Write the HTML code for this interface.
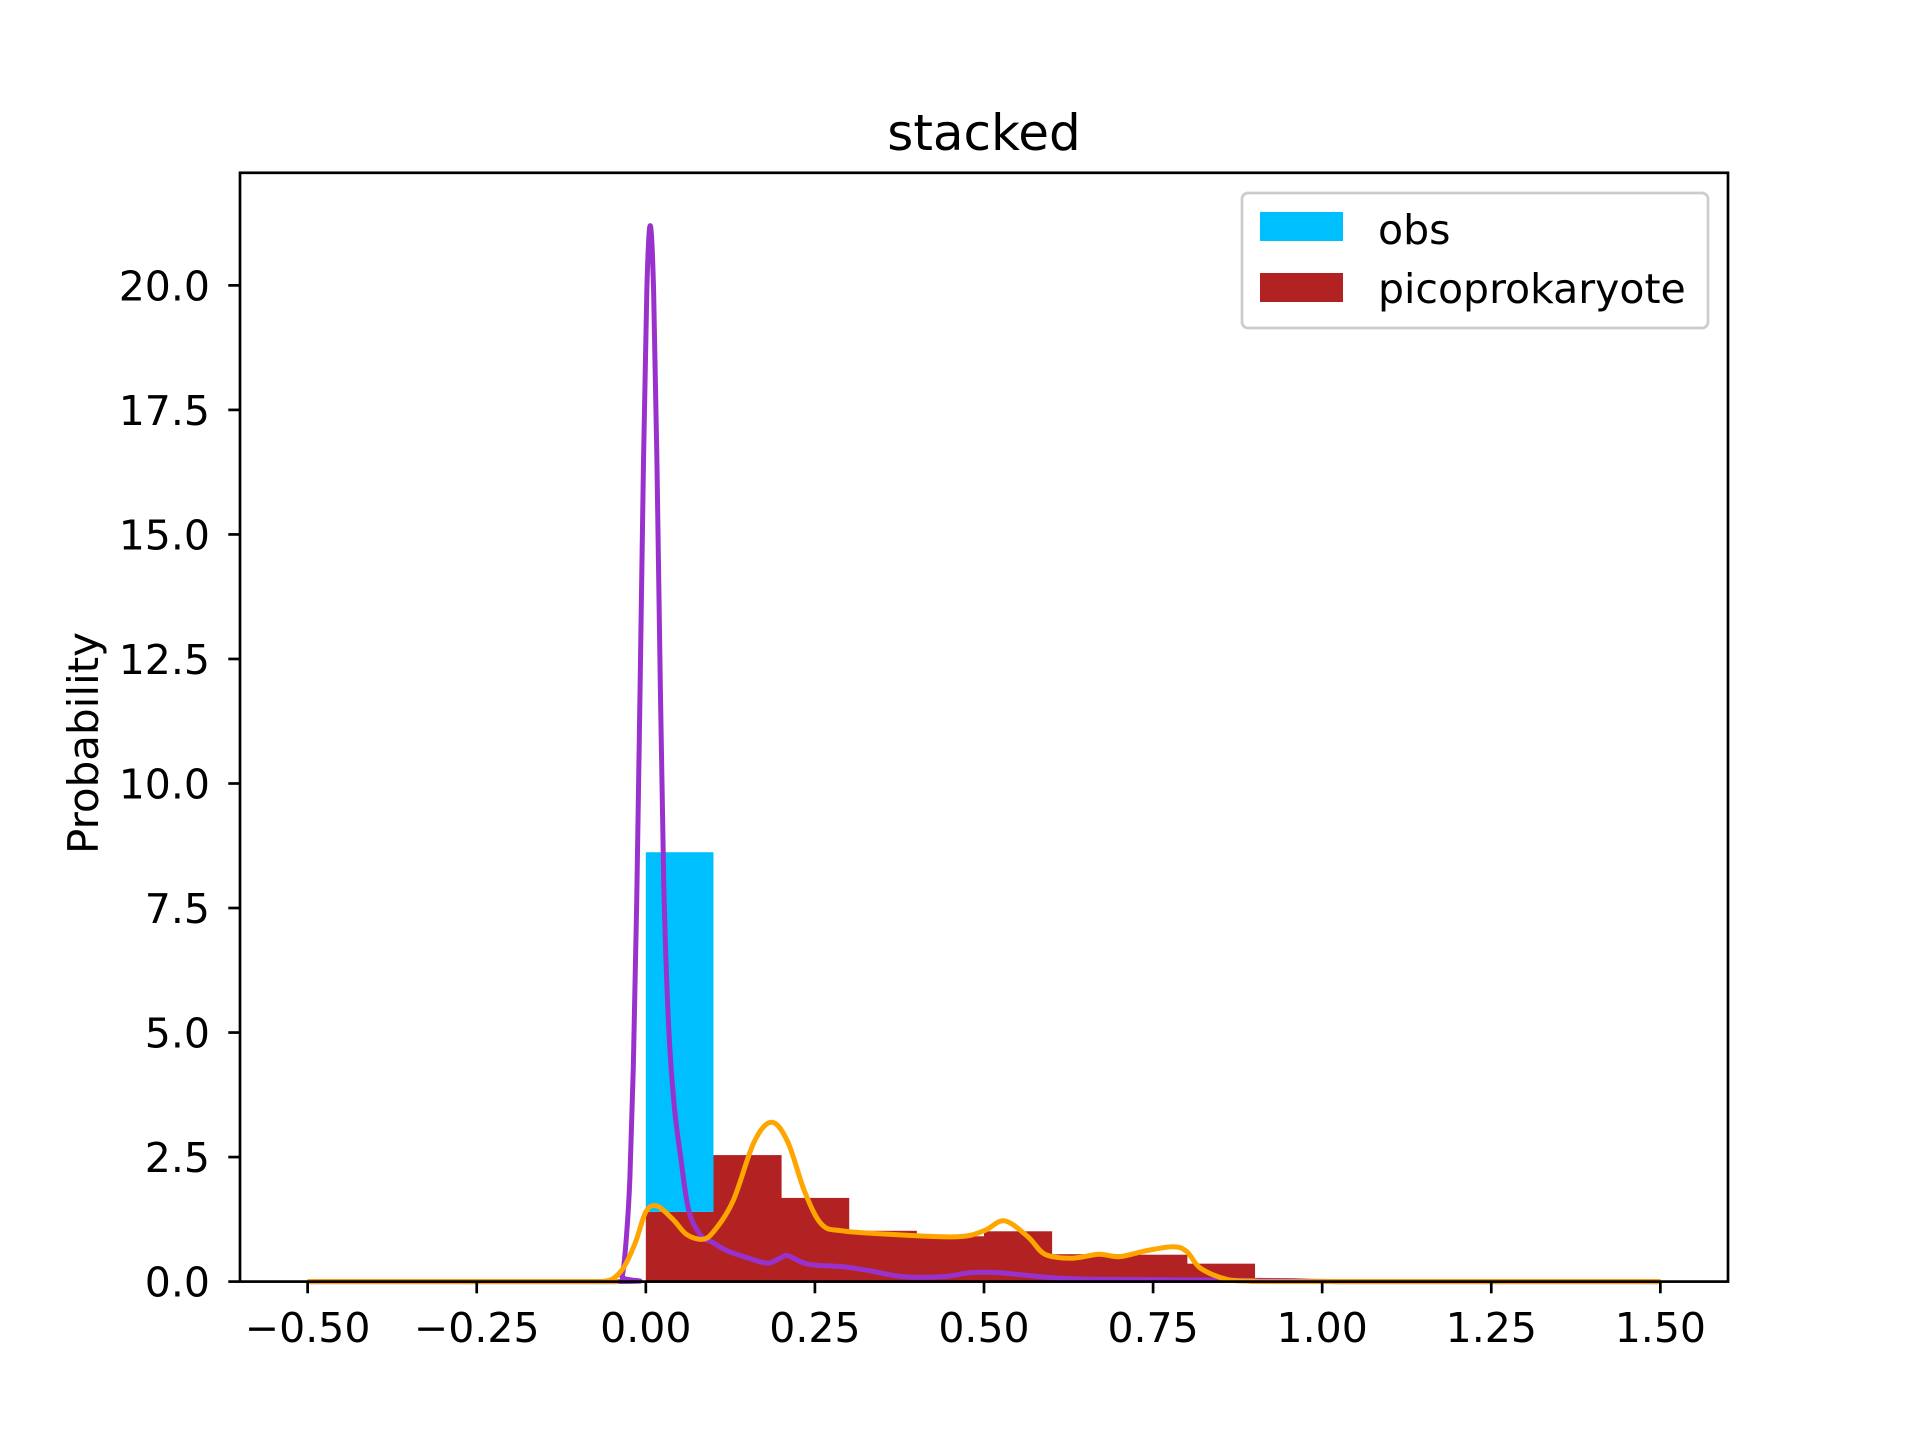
<!DOCTYPE html>
<html><head><meta charset="utf-8"><style>
html,body{margin:0;padding:0;background:#fff;}
svg{display:block;font-family:"DejaVu Sans","Liberation Sans",sans-serif;}
</style></head><body>
<svg id="chart" width="1920" height="1440" viewBox="0 0 1920 1440" xmlns="http://www.w3.org/2000/svg">
<rect width="1920" height="1440" fill="#fff"/>
<text x="984" y="150" font-size="50" text-anchor="middle">stacked</text>
<text transform="translate(98,743) rotate(-90)" font-size="42" text-anchor="middle">Probability</text>
<g id="plot"></g>
<g id="axes"></g>
<g>
<rect x="1242" y="193" width="466" height="135" rx="6" fill="#fff" fill-opacity="0.8" stroke="#cccccc" stroke-width="2.7"/>
<rect x="1260" y="212" width="83" height="29" fill="#00BFFF"/>
<text x="1378" y="244" font-size="41">obs</text>
<rect x="1260" y="273" width="83" height="29" fill="#B22222"/>
<text x="1378" y="303" font-size="41">picoprokaryote</text>
</g>
</svg>
<script>
const binEdges = [0,0.1,0.2,0.3,0.4,0.5,0.6,0.7,0.8,0.9];
const picoValues = [1.40,2.54,1.68,1.02,0.91,1.01,0.55,0.54,0.36];
const obsValues = [7.22,0,0,0,0,0,0,0,0];
const xTicks = [-0.5,-0.25,0,0.25,0.5,0.75,1.0,1.25,1.5];
const xTickLabels = ["\u22120.50","\u22120.25","0.00","0.25","0.50","0.75","1.00","1.25","1.50"];
const yTicks = [0,2.5,5,7.5,10,12.5,15,17.5,20];
const yTickLabels = ["0.0","2.5","5.0","7.5","10.0","12.5","15.0","17.5","20.0"];
const obsKdeX = [-0.5,-0.045,-0.035,-0.0285,-0.0235,-0.0185,-0.0135,-0.0085,-0.0035,0.0015,0.0065,0.0115,0.0165,0.0215,0.0265,0.0335,0.0415,0.0515,0.064,0.083,0.097,0.12,0.15,0.18,0.2,0.21,0.24,0.29,0.33,0.38,0.44,0.48,0.52,0.56,0.6,0.65,0.75,0.85,0.95,1.05,1.5];
const obsKdeY = [0,0,0.1,0.93,2.1,4.3,7.6,11.9,16.4,19.9,21.2,19.9,16.4,11.9,8.0,5.2,3.6,2.5,1.4,0.9,0.8,0.62,0.48,0.37,0.48,0.52,0.35,0.3,0.22,0.1,0.1,0.18,0.18,0.13,0.08,0.05,0.04,0.03,0.02,0,0];
const picoKdeX = [-0.5,-0.08,-0.06,-0.047,-0.032,-0.015,0,0.016,0.04,0.06,0.083,0.1,0.129,0.16,0.186,0.21,0.235,0.26,0.29,0.36,0.46,0.5,0.53,0.565,0.59,0.63,0.67,0.7,0.74,0.78,0.8,0.82,0.86,0.9,0.95,1.5];
const picoKdeY = [0,0,0.01,0.07,0.3,0.8,1.4,1.52,1.25,0.95,0.85,1.0,1.62,2.8,3.2,2.8,1.8,1.15,1.02,0.95,0.9,1.02,1.22,0.9,0.55,0.47,0.55,0.5,0.62,0.7,0.6,0.27,0.04,0.01,0,0];

const L=240,R=1728,T=172.8,B=1281.6;
const xMin=-0.6,xMax=1.6,yMin=0,yMax=22.26;
const NS="http://www.w3.org/2000/svg";
function xs(v){return L+(v-xMin)/(xMax-xMin)*(R-L);}
function ys(v){return B-(v-yMin)/(yMax-yMin)*(B-T);}
function mk(tag,attrs,parent){const e=document.createElementNS(NS,tag);for(const k in attrs)e.setAttribute(k,attrs[k]);parent.appendChild(e);return e;}
const plot=document.getElementById('plot');
const axes=document.getElementById('axes');

for(let i=0;i<picoValues.length;i++){
  const x0=xs(binEdges[i]),x1=xs(binEdges[i]+0.1);
  const b=mk('rect',{x:x0,y:ys(picoValues[i]),width:x1-x0+0.5,height:ys(0)-ys(picoValues[i]),fill:'#B22222'},plot);
  
  
  if(obsValues[i]>0){
    const o=mk('rect',{x:x0,y:ys(picoValues[i]+obsValues[i]),width:x1-x0,height:ys(picoValues[i])-ys(picoValues[i]+obsValues[i]),fill:'#00BFFF'},plot);
    
    
  }
}
function path(xa,ya){
  const p=xa.map((x,i)=>[xs(x),ys(ya[i])]);
  let d='M'+p[0][0]+','+p[0][1];
  for(let i=0;i<p.length-1;i++){
    const p0=p[Math.max(0,i-1)],p1=p[i],p2=p[i+1],p3=p[Math.min(p.length-1,i+2)];
    const c1x=p1[0]+(p2[0]-p0[0])/6,c1y=p1[1]+(p2[1]-p0[1])/6;
    const c2x=p2[0]-(p3[0]-p1[0])/6,c2y=p2[1]-(p3[1]-p1[1])/6;
    d+=' C'+c1x+','+Math.min(B,c1y)+' '+c2x+','+Math.min(B,c2y)+' '+p2[0]+','+p2[1];
  }
  return d;
}
const l1=mk('path',{d:path(obsKdeX,obsKdeY),fill:'none',stroke:'#9932CC','stroke-width':5,'stroke-linejoin':'round'},plot);


const l2=mk('path',{d:path(picoKdeX,picoKdeY),fill:'none',stroke:'#FFA500','stroke-width':5,'stroke-linejoin':'round'},plot);



const frame=mk('rect',{x:L,y:T,width:R-L,height:B-T,fill:'none',stroke:'#000','stroke-width':2.7},axes);


xTicks.forEach((v,i)=>{
  const x=xs(v);
  const t=mk('line',{x1:x,x2:x,y1:B,y2:B+11.7,stroke:'#000','stroke-width':2.7},axes);
  
  
  const lb=mk('text',{x:x,y:1342,'font-size':41,'text-anchor':'middle'},axes);
  lb.textContent=xTickLabels[i];
  
  
});
yTicks.forEach((v,i)=>{
  const y=ys(v);
  const t=mk('line',{x1:L-11.7,x2:L,y1:y,y2:y,stroke:'#000','stroke-width':2.7},axes);
  
  
  const lb=mk('text',{x:210,y:y+15,'font-size':41,'text-anchor':'end'},axes);
  lb.textContent=yTickLabels[i];
  
  
});
</script>
</body></html>
